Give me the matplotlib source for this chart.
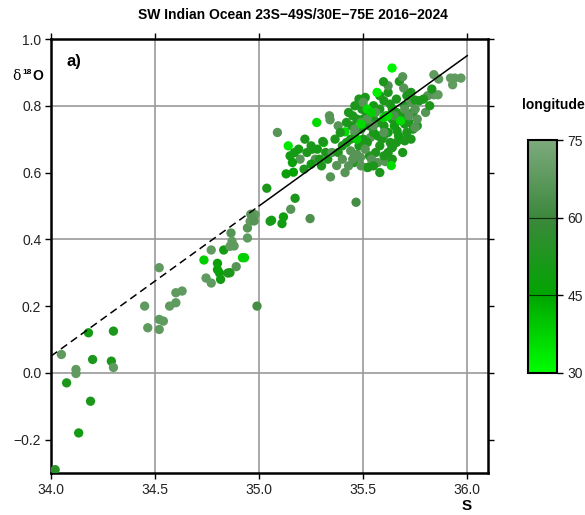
import numpy as np
import matplotlib
matplotlib.use("Agg")
import matplotlib.pyplot as plt
from matplotlib.colors import LinearSegmentedColormap

plt.rcParams['font.family'] = ['Liberation Sans', 'DejaVu Sans']

# datos: salinidad, d18O, longitud
sal = [34.02, 34.05, 34.075, 34.12, 34.12, 34.133, 34.18, 34.19, 34.20, 34.29,
       34.30, 34.30, 34.45, 34.465, 34.52, 34.52, 34.52, 34.54, 34.57, 34.60,
       34.60, 34.63, 34.735, 34.745, 34.77, 34.77, 34.80, 34.80, 34.81, 34.83,
       34.815, 34.85, 34.86, 34.89, 34.92, 34.93, 34.865, 34.87, 34.86, 34.88,
       34.944, 34.944, 34.957, 34.97, 34.98, 34.99, 34.96, 34.976,
       35.037, 35.053, 35.06, 35.117, 35.11, 35.13, 35.165, 35.173, 35.152, 35.245,
       35.088, 35.14, 35.149, 35.197, 35.216, 35.22, 35.256, 35.28, 35.277, 35.31,
       35.32, 35.30, 35.343, 35.373, 35.413, 35.338, 35.341, 35.38, 35.365, 35.413,
       35.306, 35.466, 35.17, 35.19, 35.23, 35.25, 35.27, 35.29, 35.33, 35.35,
       35.25, 35.16,
       35.44, 35.47, 35.455, 35.487, 35.52, 35.64, 35.70, 35.663, 35.6, 35.535,
       35.51, 35.495, 35.51, 35.6, 35.63, 35.57, 35.60, 35.66, 35.69, 35.74,
       35.47, 35.49, 35.46, 35.52, 35.56, 35.58, 35.53, 35.62, 35.45, 35.445,
       35.494, 35.514, 35.55, 35.58, 35.64, 35.66, 35.70, 35.72, 35.74, 35.76,
       35.73, 35.68, 35.66, 35.55, 35.53, 35.57, 35.62, 35.65, 35.67, 35.71,
       35.50, 35.48, 35.44, 35.42, 35.40, 35.38, 35.39, 35.42, 35.43, 35.46,
       35.48, 35.50, 35.58, 35.62, 35.55, 35.61, 35.64, 35.70, 35.69, 35.63,
       35.59,
       35.45, 35.43, 35.40, 35.49, 35.51, 35.54, 35.57, 35.49, 35.52, 35.55,
       35.60, 35.65, 35.70, 35.72, 35.73, 35.75, 35.76, 35.56, 35.46, 35.50,
       35.62,
       35.52, 35.6, 35.68, 35.49, 35.54, 35.62, 35.47, 35.567, 35.639,
       35.598, 35.674, 35.69, 35.695, 35.84, 35.863, 35.92, 35.94, 35.97, 35.93,
       35.84, 35.86, 35.81, 35.79, 35.77, 35.75, 35.80, 35.75, 35.73, 35.71,
       35.83, 35.82,
       35.606, 35.525, 35.638, 35.64, 35.60, 35.58, 35.55, 35.635]

d18o = [-0.29, 0.055, -0.03, 0.01, -0.002, -0.18, 0.12, -0.085, 0.04, 0.035,
        0.016, 0.125, 0.20, 0.135, 0.315, 0.16, 0.13, 0.155, 0.20, 0.21,
        0.24, 0.245, 0.338, 0.284, 0.269, 0.368, 0.328, 0.309, 0.299, 0.368,
        0.28, 0.299, 0.30, 0.318, 0.345, 0.345, 0.419, 0.394, 0.379, 0.38,
        0.434, 0.404, 0.454, 0.47, 0.474, 0.20, 0.475, 0.455,
        0.553, 0.454, 0.457, 0.467, 0.447, 0.596, 0.601, 0.523, 0.49, 0.462,
        0.72, 0.68, 0.65, 0.64, 0.61, 0.70, 0.67, 0.67, 0.75, 0.69,
        0.66, 0.62, 0.587, 0.621, 0.60, 0.77, 0.758, 0.74, 0.70, 0.722,
        0.693, 0.511, 0.66, 0.67, 0.66, 0.68, 0.64, 0.64, 0.64, 0.66,
        0.625, 0.63,
        0.665, 0.655, 0.63, 0.645, 0.615, 0.675, 0.695, 0.725, 0.71, 0.705,
        0.785, 0.805, 0.825, 0.815, 0.805, 0.75, 0.74, 0.78, 0.77, 0.78,
        0.76, 0.73, 0.72, 0.69, 0.66, 0.68, 0.65, 0.66, 0.77, 0.74,
        0.79, 0.79, 0.80, 0.79, 0.79, 0.82, 0.80, 0.75, 0.73, 0.74,
        0.70, 0.70, 0.69, 0.72, 0.74, 0.71, 0.72, 0.74, 0.71, 0.72,
        0.70, 0.68, 0.70, 0.69, 0.68, 0.66, 0.72, 0.75, 0.78, 0.80,
        0.82, 0.76, 0.83, 0.84, 0.76, 0.77, 0.76, 0.745, 0.66, 0.69,
        0.70,
        0.64, 0.62, 0.64, 0.62, 0.67, 0.64, 0.63, 0.75, 0.76, 0.74,
        0.72, 0.77, 0.79, 0.77, 0.81, 0.79, 0.76, 0.78, 0.73, 0.81,
        0.86,
        0.79, 0.765, 0.755, 0.745, 0.78, 0.77, 0.70, 0.84, 0.913,
        0.872, 0.873, 0.887, 0.853, 0.893, 0.88, 0.883, 0.883, 0.883, 0.863,
        0.833, 0.833, 0.83, 0.82, 0.815, 0.817, 0.78, 0.735, 0.84, 0.83,
        0.85, 0.80,
        0.633, 0.616, 0.675, 0.64, 0.65, 0.60, 0.62, 0.621]

lon = [55, 68, 52, 68, 68, 50, 50, 52, 52, 52,
       68, 52, 68, 68, 68, 68, 68, 68, 68, 68,
       68, 68, 38, 68, 68, 68, 48, 48, 48, 50,
       50, 52, 52, 66, 38, 38, 66, 68, 68, 68,
       66, 68, 68, 68, 68, 62, 66, 66,
       52, 52, 50, 48, 50, 48, 46, 52, 66, 64,
       66, 34, 50, 66, 52, 52, 52, 50, 36, 40,
       52, 52, 66, 66, 66, 66, 66, 66, 52, 36,
       52, 62, 50, 50, 52, 52, 66, 52, 52, 66,
       50, 48,
       66, 66, 52, 66, 52, 52, 52, 52, 66, 66,
       52, 52, 52, 52, 52, 52, 52, 52, 52, 52,
       52, 52, 66, 52, 52, 52, 52, 52, 52, 52,
       52, 52, 50, 52, 50, 52, 52, 52, 52, 52,
       52, 52, 52, 52, 52, 50, 50, 50, 50, 52,
       52, 52, 52, 52, 52, 52, 52, 52, 52, 52,
       52, 52, 52, 52, 52, 52, 52, 52, 52, 52,
       52,
       66, 66, 66, 66, 66, 66, 66, 66, 66, 66,
       66, 64, 66, 66, 66, 66, 66, 66, 66, 66,
       64,
       36, 38, 36, 36, 38, 36, 38, 33, 32,
       52, 52, 66, 66, 68, 68, 68, 68, 68, 68,
       68, 68, 66, 52, 52, 52, 66, 66, 52, 52,
       52, 52,
       66, 52, 52, 52, 52, 52, 52, 36]

# recta de ajuste (tramo extrapolado y tramo con datos)
fit_s_dash = [34.0, 35.0]
fit_d_dash = [0.05, 0.50]
fit_s_solid = [35.0, 36.0]
fit_d_solid = [0.50, 0.95]

# paleta verde
verdes = LinearSegmentedColormap.from_list(
    'verdes', [(0.0, (0/255, 255/255, 0/255)),
               (0.333, (0/255, 165/255, 0/255)),
               (0.667, (60/255, 135/255, 60/255)),
               (1.0, (125/255, 170/255, 125/255))])

fig = plt.figure(figsize=(5.85, 5.15), dpi=100)
ax = fig.add_axes([51/585, 42/515, 437/585, 434/515])

ax.set_xlim(34.0, 36.1)
ax.set_ylim(-0.3, 1.0)
ax.set_xticks([34.0, 34.5, 35.0, 35.5, 36.0])
ax.set_yticks([-0.2, 0.0, 0.2, 0.4, 0.6, 0.8, 1.0])
ax.set_xticklabels(['34.0', '34.5', '35.0', '35.5', '36.0'])

# rejilla: x cada 0.5, y cada 0.4
for xv in [34.5, 35.0, 35.5, 36.0]:
    ax.axvline(xv, color='#999999', lw=1.2, zorder=1)
for yv in [0.0, 0.4, 0.8]:
    ax.axhline(yv, color='#999999', lw=1.2, zorder=1)

sc = ax.scatter(sal, d18o, c=lon, cmap=verdes, vmin=30, vmax=75, s=45,
                linewidths=0, zorder=3, clip_on=True)

ax.plot(fit_s_dash, fit_d_dash, color='black', lw=1.1, ls=(0, (5, 3)), zorder=4)
ax.plot(fit_s_solid, fit_d_solid, color='black', lw=1.1, zorder=4)

for sp in ax.spines.values():
    sp.set_linewidth(1.8)
ax.tick_params(direction='out', length=4, width=1.0, top=True, right=True,
               labelsize=10, labelcolor='#222222', pad=3)

ax.text(0.035, 0.965, 'a)', transform=ax.transAxes, fontsize=12,
        fontweight='bold', va='top', ha='left')

fig.text(0.5, 0.971, 'SW Indian Ocean 23S\u221249S/30E\u221275E 2016\u22122024',
         ha='center', va='center', fontsize=10, fontweight='bold')

# etiqueta del eje y
fig.text(12/585, 1 - 76/515, '\u03b4', family='DejaVu Serif', fontsize=10,
         ha='left', va='center')
fig.text(22/585, 1 - 72/515, '18', fontsize=6, fontweight='bold',
         ha='left', va='center')
fig.text(32/585, 1 - 76/515, 'O', fontsize=10, fontweight='bold',
         ha='left', va='center')

fig.text(467/585, 1 - 506/515, 'S', fontsize=11, fontweight='bold',
         ha='center', va='center')

fig.text(553/585, 1 - 105/515, 'longitude', fontsize=10, fontweight='bold',
         ha='center', va='center')

cax = fig.add_axes([528/585, 142/515, 29/585, 233/515])
cb = fig.colorbar(sc, cax=cax, ticks=[30, 45, 60, 75])
cb.outline.set_linewidth(1.5)
cax.tick_params(direction='out', length=4, width=1.0, labelsize=10,
                labelcolor='#222222')
for tv in [45, 60]:
    cax.axhline(tv, color='black', lw=0.8, alpha=0.7)

fig.savefig('out.png', dpi=100)
